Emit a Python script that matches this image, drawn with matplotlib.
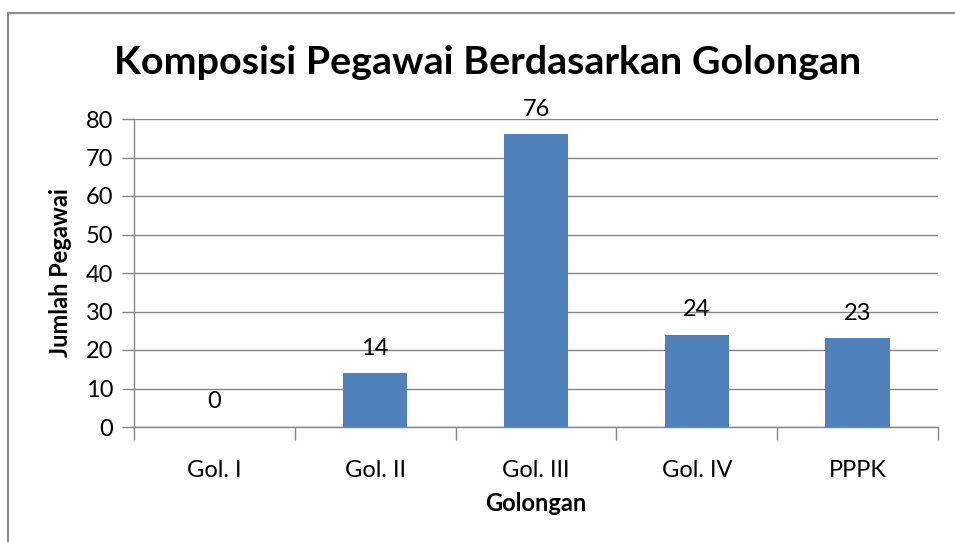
import matplotlib.pyplot as plt
from matplotlib.lines import Line2D
import numpy as np

categories = ['Gol. I', 'Gol. II', 'Gol. III', 'Gol. IV', 'PPPK']
counts = [0, 14, 76, 24, 23]
yticks = [0, 10, 20, 30, 40, 50, 60, 70, 80]

FONT = ['Lato', 'DejaVu Sans']
GRID = '#868686'
BAR = '#4F81BD'

W, H = 955, 542
fig = plt.figure(figsize=(9.55, 5.42), dpi=100)
fig.patch.set_facecolor('white')
ax = fig.add_axes([134 / W, 1 - 427 / H, (938 - 134) / W, (427 - 119) / H])

x = np.arange(len(categories))
ax.bar(x, counts, width=0.4, color=BAR, zorder=3)
ax.set_xlim(-0.5, len(categories) - 0.5)
ax.set_ylim(0, 80)

# gridlines
ax.set_yticks(yticks)
ax.yaxis.grid(True, color=GRID, linewidth=1.0, zorder=0)
ax.set_axisbelow(True)
for s in ['top', 'right']:
    ax.spines[s].set_visible(False)
for s in ['left', 'bottom']:
    ax.spines[s].set_color(GRID)
    ax.spines[s].set_linewidth(1.0)
ax.tick_params(axis='y', length=9, color=GRID, width=1.0, pad=6,
               labelsize=17, labelfontfamily=FONT)
# category boundary ticks on x
ax.set_xticks(x)
ax.set_xticklabels(categories)
ax.set_xticks(np.arange(-0.5, len(categories)), minor=True)
ax.tick_params(axis='x', which='major', length=0, pad=24,
               labelsize=17, labelfontfamily=FONT)
ax.tick_params(axis='x', which='minor', length=9, color=GRID, width=1.0)

for xi, v in zip(x, counts):
    ax.text(xi, v + 6.5, str(v), ha='center', va='center', fontsize=17,
            family=FONT, color='black')

ax.set_xlabel('Golongan', fontsize=17, fontweight='bold', family=FONT,
              labelpad=8)
ax.set_ylabel('Jumlah Pegawai', fontsize=17, fontweight='bold', family=FONT,
              labelpad=10)

fig.text(488 / W, 1 - 62 / H, 'Komposisi Pegawai Berdasarkan Golongan',
         ha='center', va='center', fontsize=28.4, fontweight='bold',
         family=FONT)

# outer chart border (top and left visible)
fig.add_artist(Line2D([8 / W, 1.0], [1 - 13 / H, 1 - 13 / H],
                      color='#8c8c8c', linewidth=1.5, transform=fig.transFigure))
fig.add_artist(Line2D([8 / W, 8 / W], [0, 1 - 13 / H],
                      color='#8c8c8c', linewidth=1.5, transform=fig.transFigure))

fig.savefig('out.png', dpi=100, facecolor='white')
